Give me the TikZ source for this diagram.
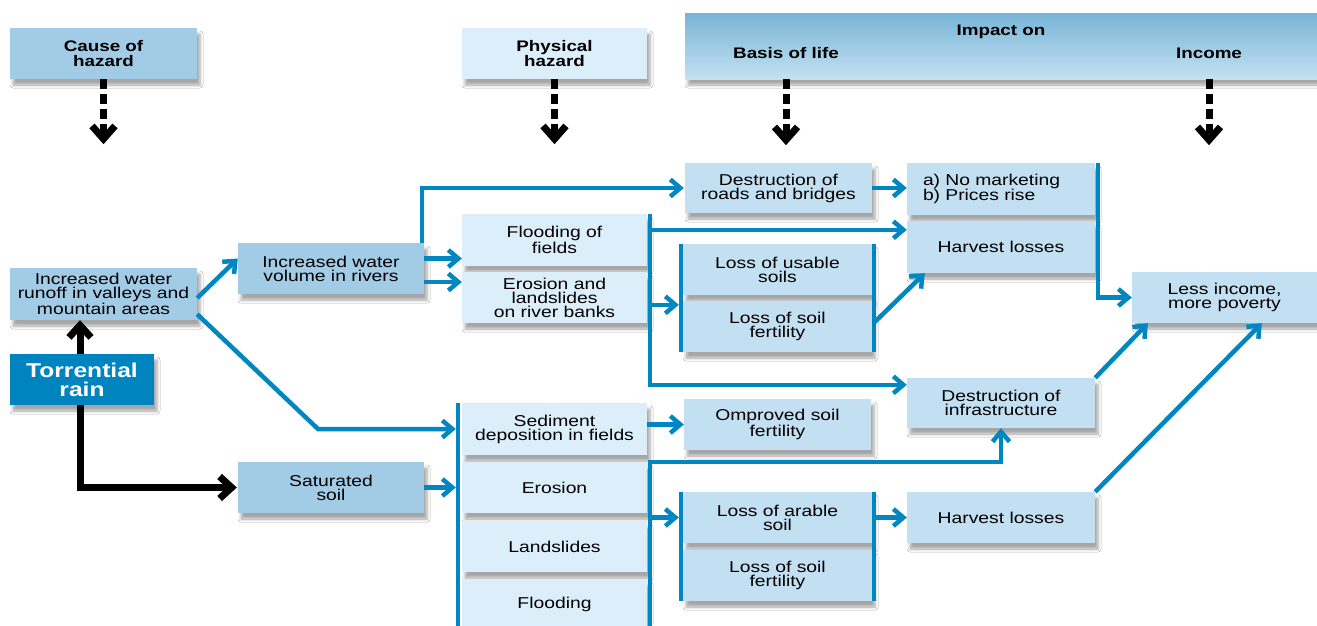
\documentclass[tikz,border=0pt]{standalone}
\usepackage{fontspec}
\setmainfont{Liberation Sans}[FakeStretch=1.23]
\usetikzlibrary{arrows.meta,shadows,shadows.blur,calc}
\definecolor{midblue}{RGB}{162,203,230}
\definecolor{ltblue}{RGB}{195,224,242}
\definecolor{pale}{RGB}{220,238,250}
\definecolor{dkblue}{RGB}{0,132,191}
\definecolor{lnblue}{RGB}{0,134,192}
\definecolor{imptop}{RGB}{120,180,214}
\definecolor{impbot}{RGB}{196,225,242}
\newcommand\bodyfnt{\fontsize{15.7}{14}\selectfont}
\newcommand\headfnt{\fontsize{15.3}{15}\selectfont\bfseries}
\newcommand\bigfnt{\fontsize{20}{19}\selectfont\bfseries}
\begin{document}
\begin{tikzpicture}[x=1pt,y=-1pt,
 shd/.style={blur shadow={shadow xshift=3pt,shadow yshift=-6pt,shadow blur radius=3pt,shadow opacity=35}},
 box/.style={rectangle,inner sep=0pt,align=center,font=\bodyfnt,minimum width=187pt,minimum height=51pt,shd},
 mid/.style={box,fill=midblue},
 lt/.style={box,fill=ltblue},
 pl/.style={box,fill=pale},
 hd/.style={font=\headfnt,align=center,inner sep=0pt},
 bl/.style={draw=lnblue,line width=4.5pt,-{Straight Barb[length=10pt,width=17pt]}},
 barline/.style={draw=lnblue,line width=4pt},
 blk/.style={draw=black,line width=7pt,-{Straight Barb[length=12pt,width=22pt]}},
 dsh/.style={draw=black,line width=7pt,dash pattern=on 10pt off 5pt,-{Straight Barb[length=13pt,width=23pt]}},
]
\useasboundingbox (0,0) rectangle (1317,625);
\clip (0,0) rectangle (1317,625);
\fill[white] (0,0) rectangle (1317,625);

% headers
\node[rectangle,inner sep=0pt,minimum width=632pt,minimum height=66pt,top color=imptop,bottom color=impbot,shd] (impact) at (1001,46) {};
\node[mid,font=\headfnt] (cause) at (103.5,53.5) {Cause of\\hazard};
\node[pl,font=\headfnt,minimum width=185pt] (phys) at (554.5,53.5) {Physical\\hazard};
\node[hd] (impon) at (1001,32) {Impact on};
\node[hd] (basis) at (786,53) {Basis of life};
\node[hd] (income) at (1209,53) {Income};

% boxes
\node[mid,minimum height=52pt] (runoff) at (103.5,294) {Increased water\\runoff in valleys and\\mountain areas};
\node[box,fill=dkblue,text=white,font=\bigfnt,minimum width=144pt] (rain) at (82,379.5) {Torrential\\rain};
\node[mid,minimum width=186pt] (volume) at (331,268.5) {Increased water\\volume in rivers};
\node[mid,minimum width=186pt] (satur) at (331,487.5) {Saturated\\soil};
\node[pl,minimum width=185pt,minimum height=52pt] (fields) at (554.5,240) {Flooding of\\fields};
\node[pl,minimum width=185pt] (banks) at (554.5,297.5) {Erosion and\\landslides\\on river banks};
\node[pl,minimum width=185pt,minimum height=52pt] (sedim) at (554.5,429) {Sediment\\deposition in fields};
\node[pl,minimum width=185pt] (eros) at (554.5,487.5) {Erosion};
\node[pl,minimum width=185pt] (lands) at (554.5,546.5) {Landslides};
\node[pl,minimum width=185pt] (flood) at (554.5,604.5) {Flooding};

\node[lt,minimum height=50pt] (roads) at (778.5,188) {Destruction of\\roads and bridges};
\node[lt,minimum width=189pt] (usable) at (777.5,269.5) {Loss of usable\\soils};
\node[lt,minimum width=189pt] (fert1) at (777.5,326.5) {Loss of soil\\fertility};
\node[lt] (omprov) at (777.5,424.5) {Omproved soil\\fertility};
\node[lt,minimum width=189pt] (arable) at (777.5,517.5) {Loss of arable\\soil};
\node[lt,minimum width=189pt] (fert2) at (777.5,575.5) {Loss of soil\\fertility};

\node[lt,minimum width=188pt,minimum height=52pt,text width=156pt,align=left] (market) at (1001,189) {a) No marketing\\b) Prices rise};
\node[lt,minimum width=188pt,minimum height=52pt] (harv1) at (1001,247) {Harvest losses};
\node[lt,minimum width=188pt,minimum height=50pt] (infra) at (1001,403) {Destruction of\\infrastructure};
\node[lt,minimum width=188pt] (harv2) at (1001,517.5) {Harvest losses};
\node[lt,minimum width=185pt] (less) at (1224.5,297.5) {Less income,\\more poverty};

% group bars
\draw[barline] ([xshift=-2pt]usable.north west) -- ([xshift=-2pt]fert1.south west);
\draw[barline] ([xshift=2pt]usable.north east) -- ([xshift=2pt]fert1.south east);
\draw[barline] ([xshift=-2pt]arable.north west) -- ([xshift=-2pt]fert2.south west);
\draw[barline] ([xshift=2pt]arable.north east) -- ([xshift=2pt]fert2.south east);
\draw[barline] ([xshift=-4pt]sedim.north west) -- ([xshift=-4pt]flood.south west);

% dashed header arrows
\coordinate (d1) at ([yshift=-65pt]cause.south);
\coordinate (d2) at ([yshift=-65pt]phys.south);
\coordinate (b0) at (basis |- impact.south);
\coordinate (b1) at ([yshift=-66pt]b0);
\coordinate (i0) at (income |- impact.south);
\coordinate (i1) at ([yshift=-66pt]i0);
\draw[dsh] (cause.south) -- (d1);
\draw[dsh] (phys.south) -- (d2);
\draw[dsh] (b0) -- (b1);
\draw[dsh] (i0) -- (i1);

% black arrows
\draw[blk] ([xshift=-2pt]rain.north) -- ([xshift=-2pt]rain.north |- runoff.south);
\draw[blk] ([xshift=-2pt]rain.south) |- ([xshift=-1pt]satur.west);

% blue connectors
\draw[bl] ([yshift=-4pt]runoff.east) -- ([yshift=10pt]volume.west);
\coordinate (bend) at (318,429);
\draw[bl] ([yshift=6pt]runoff.south east) -- (bend) -- ([xshift=-6pt]sedim.west);
\draw[bl] ([xshift=-2pt]volume.north east) |- ([xshift=-1pt]roads.west);
\coordinate (v1) at ([yshift=10pt]volume.east);
\coordinate (v2) at ([yshift=-13.5pt]volume.east);
\draw[bl] (v1) -- (v1 -| fields.west);
\draw[bl] (v2) -- (v2 -| banks.west);
\draw[bl] (satur.east) -- ([xshift=-6pt]eros.west);

\coordinate (barA) at ([xshift=3pt]fields.east);
\coordinate (h1in) at ([yshift=-9pt]harv1.north west);
\coordinate (g1in) at ([xshift=-4pt,yshift=-4pt]fert1.north west);
\draw[bl] ([xshift=3pt]fields.north east) |- ([yshift=-7pt]infra.north west);
\draw[bl] (barA |- h1in) -- (h1in);
\draw[bl] (barA |- g1in) -- (g1in);
\draw[bl] ([xshift=2pt,yshift=4pt]fert1.east) -- ([xshift=18pt]harv1.south west);

\draw[bl] (roads.east) -- (roads.east -| market.west);
\draw[bl] ([xshift=3pt]market.north east) |- (less.west);
\draw[bl] (infra.north east) -- ([xshift=16pt]less.south west);
\draw[bl] (harv2.north east) -- ([xshift=130pt]less.south west);

\draw[bl] (sedim.east |- omprov.west) -- (omprov.west);
\coordinate (barB) at ([xshift=3pt]eros.east);
\draw[bl] ([xshift=3pt]flood.south east) -- ([xshift=3pt]eros.north east) -| (infra.south);
\draw[bl] (barB |- arable.west) -- ([xshift=-4pt]arable.west);
\draw[bl] ([xshift=4pt]arable.east) -- (harv2.west);
\end{tikzpicture}
\end{document}
